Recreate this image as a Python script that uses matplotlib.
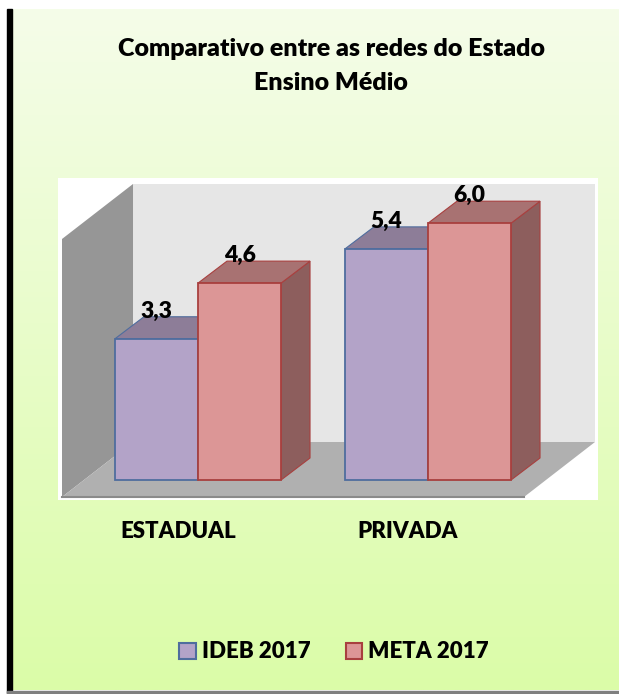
import numpy as np
import matplotlib.pyplot as plt
from matplotlib.patches import Polygon, Patch, Rectangle

plt.rcParams['font.family'] = ['Lato', 'DejaVu Sans']
PESO = 'heavy'

# dados
categorias = ['ESTADUAL', 'PRIVADA']
series = ['IDEB 2017', 'META 2017']
ideb = [3.3, 5.4]
meta = [4.6, 6.0]
rotulos_ideb = ['3,3', '5,4']
rotulos_meta = ['4,6', '6,0']

cor_frente = ['#b3a3c8', '#dc9696']
cor_borda = ['#4f6d9e', '#a8403f']
cor_topo = ['#8d7d98', '#a87272']
cor_lado = ['#7a6b88', '#8d5e5d']

W, H = 619, 694
fig = plt.figure(figsize=(W / 100, H / 100), dpi=100)

# fundo com degradê
bg = fig.add_axes([0, 0, 1, 1], zorder=-10)
bg.set_xlim(0, W)
bg.set_ylim(H, 0)
bg.axis('off')
topo = np.array([245, 253, 233]) / 255
base = np.array([219, 252, 168]) / 255
t = np.linspace(0, 1, 256)[:, None, None]
grad = topo * (1 - t) + base * t
grad = np.repeat(grad, 2, axis=1)
bg.imshow(grad, extent=[13, W, 690, 9], aspect='auto')
bg.add_patch(Rectangle((7, 9), 5, 684, color='black'))
bg.add_patch(Rectangle((7, 691), W - 7, 3, color='#7f7f7f'))

# área do gráfico
ax = fig.add_axes([58 / W, 1 - 500 / H, 540 / W, 322 / H])
ax.set_facecolor('white')
ax.set_xlim(-0.6087, 1.7391)
ax.set_ylim(-0.467, 7.056)
for s in ax.spines.values():
    s.set_visible(False)
ax.set_xticks([])
ax.set_yticks([])

x = np.arange(len(categorias))
w = 0.361
ddx, ddy = 0.126, 0.514  # profundidade das barras

# paredes e piso
xb0, xb1, yb0, yb1 = -0.2826, 1.726, 0.888, 6.916
fdx, fdy = 0.3087, 1.285
ax.add_patch(Polygon([(xb0, yb0), (xb1, yb0), (xb1, yb1), (xb0, yb1)],
                     closed=True, facecolor='#e6e6e6', edgecolor='none', zorder=1))
ax.add_patch(Polygon([(xb0 - fdx, yb0 - fdy), (xb0, yb0), (xb0, yb1), (xb0 - fdx, yb1 - fdy)],
                     closed=True, facecolor='#969696', edgecolor='none', zorder=1))
ax.add_patch(Polygon([(xb0 - fdx, yb0 - fdy), (xb0, yb0), (xb1, yb0), (xb1 - fdx, yb0 - fdy)],
                     closed=True, facecolor='#b0b0b0', edgecolor='none', zorder=1))
ax.plot([xb0 - fdx, xb1 - fdx], [yb0 - fdy, yb0 - fdy], color='#8a8a8a', lw=1.5, zorder=1)


def barra_3d(xc, val, k, z):
    x0, x1 = xc - w / 2, xc + w / 2
    ax.add_patch(Polygon([(x1, 0), (x1 + ddx, ddy), (x1 + ddx, val + ddy), (x1, val)],
                         closed=True, facecolor=cor_lado[k], edgecolor=cor_borda[k],
                         lw=0.8, zorder=z))
    ax.add_patch(Polygon([(x0, val), (x1, val), (x1 + ddx, val + ddy), (x0 + ddx, val + ddy)],
                         closed=True, facecolor=cor_topo[k], edgecolor=cor_borda[k],
                         lw=0.8, zorder=z))
    ax.bar(xc, val, w, color=cor_frente[k], edgecolor=cor_borda[k], lw=1.3, zorder=z + 0.5)


for i in range(len(categorias)):
    barra_3d(x[i] - w / 2, ideb[i], 0, 2 + 2 * i)
    barra_3d(x[i] + w / 2, meta[i], 1, 3 + 2 * i)
    ax.text(x[i] - w / 2, ideb[i] + ddy - 0.11, rotulos_ideb[i], ha='center', va='bottom',
            fontsize=16.5, fontweight=PESO, zorder=10)
    ax.text(x[i] + w / 2, meta[i] + ddy - 0.11, rotulos_meta[i], ha='center', va='bottom',
            fontsize=16.5, fontweight=PESO, zorder=10)

for i, c in enumerate(categorias):
    ax.text(x[i] - 0.087, -0.0963, c, transform=ax.get_xaxis_transform(),
            ha='center', va='center', fontsize=16, fontweight=PESO, clip_on=False)

fig.text(331 / W, 1 - 49 / H, 'Comparativo entre as redes do Estado', ha='center', va='center',
         fontsize=18, fontweight=PESO)
fig.text(331 / W, 1 - 83 / H, 'Ensino Médio', ha='center', va='center',
         fontsize=18, fontweight=PESO)

handles = [Patch(facecolor=cor_frente[k], edgecolor=cor_borda[k], lw=1.5, label=series[k])
           for k in range(2)]
fig.legend(handles=handles, loc='center', bbox_to_anchor=(334 / W, 1 - 652 / H), ncol=2,
           frameon=False, prop={'size': 16, 'weight': PESO}, handlelength=0.75,
           handleheight=0.75, handletextpad=0.25, columnspacing=1.6)

fig.savefig('out.png', dpi=100)
